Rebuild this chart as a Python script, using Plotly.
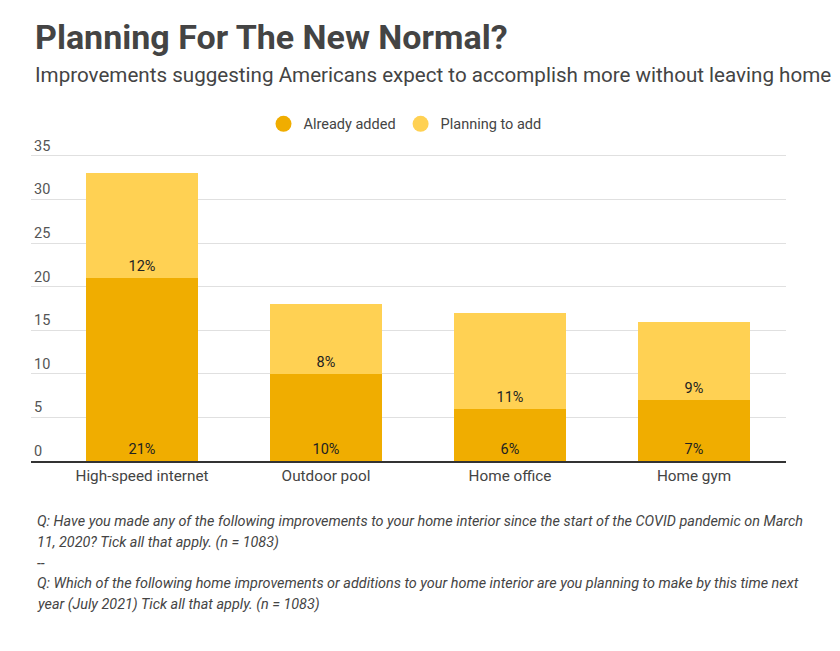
import plotly.graph_objects as go

categories = ["High-speed internet", "Outdoor pool", "Home office", "Home gym"]
already_added = [21, 10, 6, 7]
planning_to_add = [12, 8, 11, 9]
y_ticks = [0, 5, 10, 15, 20, 25, 30, 35]

title = "Planning For The New Normal?"
subtitle = "Improvements suggesting Americans expect to accomplish more without leaving home"
notes = [
    "Q: Have you made any of the following improvements to your home interior since the start of the COVID pandemic on March",
    "11, 2020? Tick all that apply. (n = 1083)",
    "--",
    "Q: Which of the following home improvements or additions to your home interior are you planning to make by this time next",
    "year (July 2021) Tick all that apply. (n = 1083)",
]

W, H = 840, 651
L, R, B = 31, 786, 461
Y35 = 156
UNIT = (B - Y35) / 35.0
YTOP = 39.0
T = B - YTOP * UNIT
C_ALREADY = "#F0AD00"
C_PLAN = "#FFD153"
FONT = "Roboto"


def px(x):
    return (x - L) / (R - L)


def py(y):
    return (B - y) / (B - T)


fig = go.Figure()
fig.add_bar(x=categories, y=already_added, marker=dict(color=C_ALREADY, line=dict(width=0)),
            name="Already added",
            text=[f"{v}%" for v in already_added], textposition="inside",
            insidetextanchor="start", textangle=0, showlegend=False,
            textfont=dict(family=FONT, size=14.5, color="#222"))
fig.add_bar(x=categories, y=planning_to_add, marker=dict(color=C_PLAN, line=dict(width=0)),
            name="Planning to add",
            text=[f"{v}%" for v in planning_to_add], textposition="inside",
            insidetextanchor="start", textangle=0, showlegend=False,
            textfont=dict(family=FONT, size=14.5, color="#222"))
fig.add_scatter(x=[None], y=[None], mode="markers", name="Already added",
                marker=dict(symbol="circle", size=18, color=C_ALREADY))
fig.add_scatter(x=[None], y=[None], mode="markers", name="Planning to add",
                marker=dict(symbol="circle", size=18, color=C_PLAN))

slot = (R - (L + 19)) / len(categories)
x_left = -0.5 - 19 / slot

annotations = [
    dict(text=f"<b>{title}</b>", x=px(33), y=py(37), xanchor="left", yanchor="middle",
         font=dict(family=FONT, size=34, color="#444")),
    dict(text=subtitle, x=px(33), y=py(75), xanchor="left", yanchor="middle",
         font=dict(family=FONT, size=20.6, color="#444")),
]
for line, yy in zip(notes, [521, 542, 563, 583, 604]):
    annotations.append(dict(text=f"<i>{line}</i>", x=px(35), y=py(yy), xanchor="left",
                            yanchor="middle", font=dict(family=FONT, size=14.4, color="#444")))
for a in annotations:
    a.update(xref="paper", yref="paper", showarrow=False)

fig.update_layout(
    width=W, height=H,
    margin=dict(l=L, r=W - R, t=T, b=H - B, pad=0),
    barmode="stack", bargap=0.39,
    plot_bgcolor="white", paper_bgcolor="white",
    font=dict(family=FONT, size=14, color="#444"),
    showlegend=True,
    legend=dict(orientation="h", x=px(405), xanchor="center", y=py(124), yanchor="middle",
                font=dict(family=FONT, size=14.5, color="#444"), itemwidth=30,
                traceorder="normal"),
    annotations=annotations,
    uniformtext=dict(minsize=10, mode="show"),
)
fig.update_xaxes(range=[x_left, len(categories) - 0.5], showline=True, linecolor="#333",
                 linewidth=2, ticks="", tickfont=dict(family=FONT, size=15.3, color="#444"),
                 showgrid=False, fixedrange=True)
fig.update_yaxes(range=[0, YTOP], tickvals=y_ticks, showgrid=True, gridcolor="#e0e0e0",
                 gridwidth=1, zeroline=False, ticklabelposition="inside top",
                 tickfont=dict(family=FONT, size=14.5, color="#555"), ticks="",
                 fixedrange=True)

fig.write_html("out.html", config={"displayModeBar": False},
               post_script="document.body.style.margin='0';document.body.style.padding='0';")
